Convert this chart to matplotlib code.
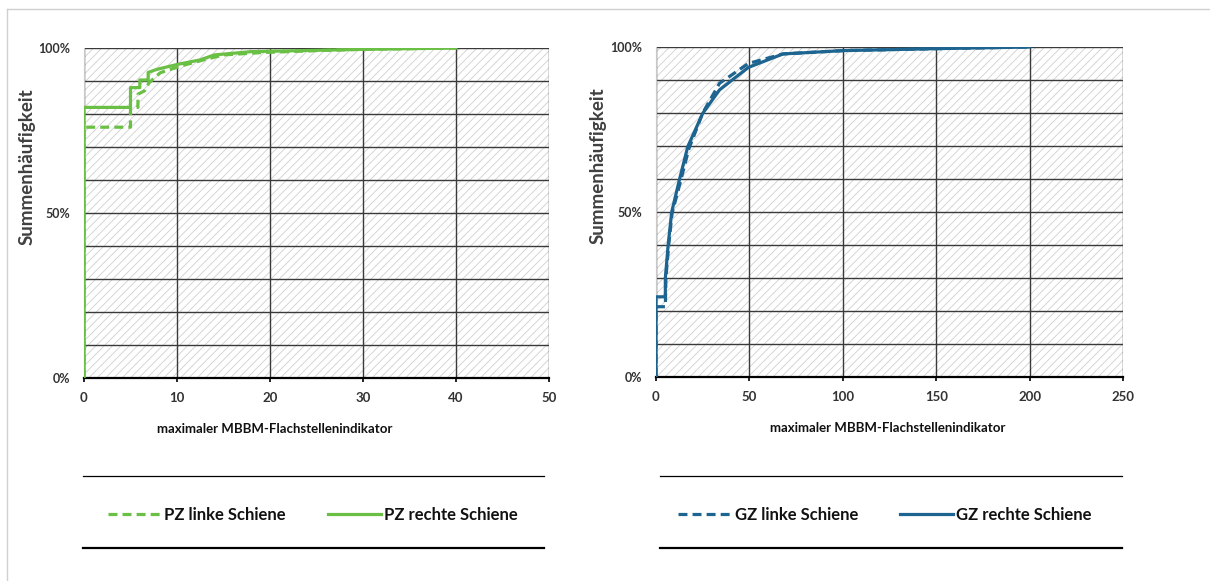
import numpy as np
import matplotlib.pyplot as plt
from matplotlib.lines import Line2D
from matplotlib.patches import Rectangle
from matplotlib.ticker import MultipleLocator, FixedLocator, PercentFormatter

plt.rcParams['font.family'] = ['Lato', 'DejaVu Sans']
plt.rcParams['font.weight'] = 'bold'
plt.rcParams['hatch.linewidth'] = 0.6

# PZ (left chart), cumulative frequency in %
pz_links_x = [0, 0, 5, 5, 5.8, 5.8, 6.5, 7, 8.2, 9.6, 11, 13, 15, 19, 25, 30, 40]
pz_links_y = [0, 76, 76, 82, 82, 86, 87, 89.5, 92.5, 93.8, 95, 96.5, 97.9, 98.6, 99.2, 99.6, 100]
pz_rechts_x = [0, 0, 5, 5, 6, 6, 6.9, 6.9, 7.8, 10, 12.5, 14, 18, 25, 30, 40]
pz_rechts_y = [0, 82, 82, 88, 88, 90.3, 90.3, 92.6, 93.5, 95, 96.4, 97.9, 98.9, 99.3, 99.6, 100]

# GZ (right chart)
gz_links_x = [0, 0, 5, 5.3, 6.8, 8.6, 13, 17.5, 25, 34, 49.4, 68, 100, 150, 200]
gz_links_y = [0, 21.3, 21.3, 30, 40, 49.6, 59, 69, 80, 89, 95, 97.9, 98.9, 99.5, 100]
gz_rechts_x = [0, 0, 5, 5, 6.5, 8.4, 12.5, 17, 25, 34, 49.4, 68, 100, 150, 200]
gz_rechts_y = [0, 24.3, 24.3, 30, 40, 50, 59.7, 69.8, 79.9, 87, 93.8, 97.9, 98.9, 99.5, 100]

green = '#6abf45'
blue = '#1d6590'
dash = (0, (2.8, 1.6))

W, H = 1210, 581
fig = plt.figure(figsize=(W / 100, H / 100), dpi=100)


def setup(ax, xmax, xstep):
    ax.add_patch(Rectangle((0, 0), 1, 1, transform=ax.transAxes, facecolor='white',
                           edgecolor='#d0d0d0', hatch='////', lw=0, zorder=0))
    ax.set_xlim(0, xmax)
    ax.set_ylim(0, 100)
    ax.xaxis.set_major_locator(MultipleLocator(xstep))
    ax.yaxis.set_major_locator(FixedLocator([0, 50, 100]))
    ax.yaxis.set_minor_locator(MultipleLocator(10))
    ax.yaxis.set_major_formatter(PercentFormatter(decimals=0))
    ax.grid(True, which='both', axis='y', color='#3a3a3a', lw=1.0, zorder=1)
    ax.grid(True, which='major', axis='x', color='#3a3a3a', lw=1.0, zorder=1)
    for s in ['top', 'right']:
        ax.spines[s].set_visible(False)
    ax.spines['left'].set_color('#c8c8c8')
    ax.spines['bottom'].set_color('black')
    ax.spines['bottom'].set_linewidth(1.6)
    ax.tick_params(axis='y', which='both', length=0, pad=10, labelsize=9, labelcolor='#333333')
    ax.tick_params(axis='x', length=3, width=1.2, pad=7, labelsize=9.5, labelcolor='#333333')
    ax.set_ylabel('Summenhäufigkeit', fontsize=13.5, fontweight='bold', color='#404040')
    ax.yaxis.set_label_coords(-0.105, 0.64)
    ax.set_xlabel('maximaler MBBM-Flachstellenindikator', fontsize=9.5, fontweight='bold',
                  color='#111111')


ax1 = fig.add_axes([84 / W, 1 - 378 / H, 465 / W, 330 / H])
setup(ax1, 50, 10)
ax1.xaxis.set_label_coords(0.41, -0.136)
ax1.plot(pz_links_x, pz_links_y, color=green, lw=2.3, ls=dash, label='PZ linke Schiene', zorder=3)
ax1.plot(pz_rechts_x, pz_rechts_y, color=green, lw=2.3, label='PZ rechte Schiene', zorder=3)

ax2 = fig.add_axes([656 / W, 1 - 377 / H, 467 / W, 330 / H])
setup(ax2, 250, 50)
ax2.xaxis.set_label_coords(0.497, -0.136)
ax2.plot(gz_links_x, gz_links_y, color=blue, lw=2.3, ls=dash, label='GZ linke Schiene', zorder=3)
ax2.plot(gz_rechts_x, gz_rechts_y, color=blue, lw=2.3, label='GZ rechte Schiene', zorder=3)

for ax, x0, x1, cx in [(ax1, 83, 544, 313), (ax2, 660, 1122, 885)]:
    fig.add_artist(Line2D([x0 / W, x1 / W], [1 - 476 / H] * 2, color='black', lw=0.9))
    fig.add_artist(Line2D([x0 / W, x1 / W], [1 - 548 / H] * 2, color='black', lw=1.6))
    leg = fig.legend(handles=ax.get_lines(), loc='center', bbox_to_anchor=(cx / W, 1 - 515 / H),
                     ncol=2, frameon=False, fontsize=12, handlelength=3.2, handletextpad=0.2,
                     columnspacing=2.5)
    for t in leg.get_texts():
        t.set_color('#111111')

# light outer frame
fig.add_artist(Line2D([7 / W, 7 / W], [0, 1 - 9 / H], color='#d0d0d0', lw=1))
fig.add_artist(Line2D([7 / W, 1], [1 - 9 / H] * 2, color='#d0d0d0', lw=1))

fig.savefig('out.png', dpi=100)
